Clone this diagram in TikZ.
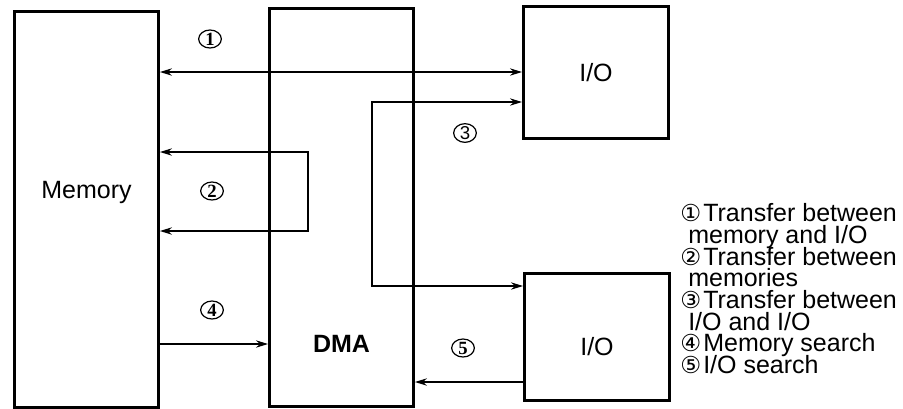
\documentclass[tikz,border=0pt]{standalone}
\usepackage{fontspec}
\setmainfont{Liberation Sans}
\newfontfamily\circfont{DejaVu Sans}
\newfontfamily\digfont{Liberation Serif}
\usetikzlibrary{arrows.meta,shapes.geometric}
\begin{document}
\begin{tikzpicture}[x=0.75pt,y=-0.75pt,
  box/.style={draw,line width=2.2pt,inner sep=0pt,anchor=north west},
  tip/.tip={Stealth[length=9pt,width=5.5pt]},
  conn/.style={line width=1pt,arrows={-tip}},
  biconn/.style={line width=1pt,arrows={tip-tip}},
  lbl/.style={font=\fontsize{18.75}{22}\selectfont,inner sep=0pt},
  num/.style={ellipse,draw,line width=0.9pt,minimum width=17pt,minimum height=13.5pt,inner sep=0pt,
    font=\digfont\bfseries\fontsize{14}{14}\selectfont},
  snum/.style={num,font=\fontsize{14}{14}\selectfont},
  leg/.style={font=\fontsize{18.75}{21}\selectfont,inner sep=0pt,anchor=base west,
    text height=12.5pt,text depth=3.5pt},
  legnum/.style={font=\circfont\fontsize{17.5}{18}\selectfont,inner sep=0pt,anchor=base west,
    text height=12.5pt,text depth=3pt}]
\useasboundingbox (0,0) rectangle (903,408);
% boxes
\node[box,minimum width=108pt,minimum height=297pt] (mem) at (13,10) {};
\node[box,minimum width=108pt,minimum height=298.5pt] (dma) at (268,7) {};
\node[box,minimum width=108.75pt,minimum height=99pt] (io1) at (522,5) {};
\node[box,minimum width=108.75pt,minimum height=95.25pt] (io2) at (523,272) {};
% box texts
\node[lbl] (memt) at (mem.north |- 0,192) {Memory};
\node[lbl,font=\bfseries\fontsize{18.75}{22}\selectfont] (dmat) at (dma.north |- 0,344) {DMA};
\node[lbl] (io1t) at (io1.center) {I/O};
\node[lbl] (io2t) at (io2.north |- 0,347) {I/O};
% connector corner coordinates
\coordinate (c2a) at (308,152);
\coordinate (c2b) at (308,231);
\coordinate (c3a) at (372,102);
\coordinate (c3b) at (372,286);
% 1
\draw[biconn] (mem.east |- 0,72) -- (io1.west |- 0,72);
% 2
\draw[biconn] (mem.east |- c2a) -- (c2a) -- (c2b) -- (mem.east |- c2b);
% 3
\draw[biconn] (io1.west |- c3a) -- (c3a) -- (c3b) -- (io2.west |- c3b);
% 4
\draw[conn] (mem.east |- 0,344) -- (dma.west |- 0,344);
% 5
\draw[conn] (io2.west |- 0,382) -- (dma.east |- 0,382);
% labels
\node[num] (n1) at (210,39) {1};
\node[num] (n2) at (212,191) {2};
\node[snum] (n3) at (465,133) {3};
\node[num] (n4) at (212,310) {4};
\node[num] (n5) at (463,348) {5};
% legend
\node[legnum] (l1n) at (680,221) {①};
\node[leg] (l1a) at (703,221) {Transfer between};
\node[leg] (l1b) at (688,243) {memory and I/O};
\node[legnum] (l2n) at (680,265) {②};
\node[leg] (l2a) at (703,265) {Transfer between};
\node[leg] (l2b) at (688,286) {memories};
\node[legnum] (l3n) at (680,308) {③};
\node[leg] (l3a) at (703,308) {Transfer between};
\node[leg] (l3b) at (688,330) {I/O and I/O};
\node[legnum] (l4n) at (680,351) {④};
\node[leg] (l4a) at (703,351) {Memory search};
\node[legnum] (l5n) at (680,373) {⑤};
\node[leg] (l5a) at (703,373) {I/O search};
\end{tikzpicture}
\end{document}
